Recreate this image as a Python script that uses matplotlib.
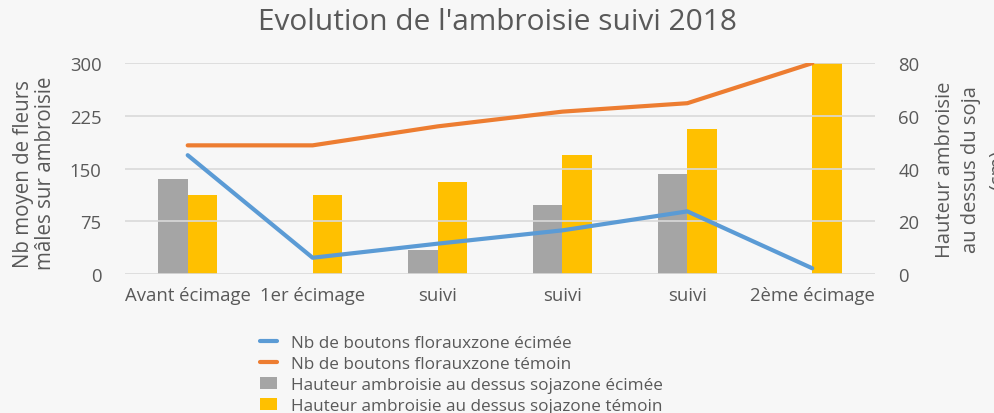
import numpy as np
import matplotlib.pyplot as plt

plt.rcParams['font.family'] = ['Open Sans', 'DejaVu Sans']

categories = ["Avant écimage", "1er écimage", "suivi", "suivi", "suivi", "2ème écimage"]
boutons_ecimee = [169, 23, 43, 62, 89, 8]
boutons_temoin = [183, 183, 210, 231, 243, 300]
hauteur_ecimee = [36, 0, 9, 26, 38, 0]
hauteur_temoin = [30, 30, 35, 45, 55, 80]

txt = '#595959'
bg = '#f7f7f7'

fig = plt.figure(figsize=(9.94, 4.14), dpi=100, facecolor=bg)
ax = fig.add_axes([0.126, 0.336, 0.754, 0.509], facecolor=bg)
ax2 = ax.twinx()

x = np.arange(len(categories))
w = 0.235
ax2.bar(x - w / 2, hauteur_ecimee, w, color='#a5a5a5', label='Hauteur ambroisie au dessus sojazone écimée', zorder=2)
ax2.bar(x + w / 2, hauteur_temoin, w, color='#ffc000', label='Hauteur ambroisie au dessus sojazone témoin', zorder=2)

ax.set_zorder(ax2.get_zorder() + 1)
ax.patch.set_visible(False)
ax.plot(x, boutons_ecimee, color='#5b9bd5', lw=3, label='Nb de boutons florauxzone écimée', solid_capstyle='round')
ax.plot(x, boutons_temoin, color='#ed7d31', lw=3, label='Nb de boutons florauxzone témoin', solid_capstyle='round')

ax.set_ylim(0, 300)
ax.set_yticks([0, 75, 150, 225, 300])
ax2.set_ylim(0, 80)
ax2.set_yticks([0, 20, 40, 60, 80])
ax.set_xlim(-0.5, 5.5)
ax.set_xticks(x)
ax.set_xticklabels(categories)

ax.yaxis.grid(True, color='#d9d9d9', lw=1.2)
ax.set_axisbelow(True)
for a in (ax, ax2):
    for s in a.spines.values():
        s.set_visible(False)
    a.tick_params(length=0, labelsize=13.3, colors=txt, pad=17)
ax.tick_params(axis='x', pad=9)

ax.set_ylabel("Nb moyen de fleurs\nmâles sur ambroisie", fontsize=14.8, color=txt, linespacing=1.05)
ax.yaxis.set_label_coords(-0.092, 0.48)
ax2.set_ylabel("Hauteur ambroisie\nau dessus du soja\n(cm)", fontsize=14.5, color=txt, linespacing=1.42)
ax2.yaxis.set_label_coords(1.08, 0.5)

fig.text(0.5, 0.945, "Evolution de l'ambroisie suivi 2018", ha='center', va='center', fontsize=21.5, color=txt)

h1, l1 = ax.get_legend_handles_labels()
h2, l2 = ax2.get_legend_handles_labels()
fig.legend(h1 + h2, l1 + l2, loc='upper left', bbox_to_anchor=(0.255, 0.205), frameon=False,
           fontsize=12.3, labelcolor=txt, handlelength=1.0, handletextpad=0.8, labelspacing=0.3,
           borderaxespad=0)

fig.savefig('out.png', dpi=100, facecolor=bg)
